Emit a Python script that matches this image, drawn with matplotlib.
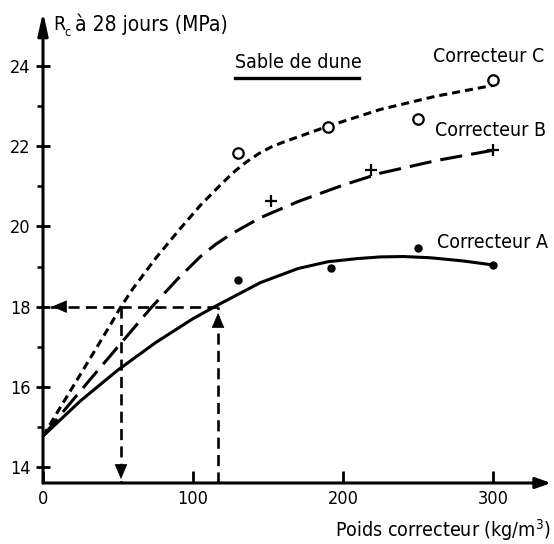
import matplotlib
matplotlib.use("Agg")
import matplotlib.pyplot as plt

plt.rcParams['font.family'] = ['DejaVu Sans']
plt.rcParams['font.stretch'] = 'condensed'
plt.rcParams['lines.scale_dashes'] = False

# fitted curves (kg/m3 -> MPa)
xA = [0, 25, 50, 75, 100, 117, 145, 170, 190, 210, 225, 240, 258, 280, 300]
yA = [14.77, 15.65, 16.42, 17.1, 17.7, 18.05, 18.6, 18.95, 19.12, 19.2, 19.24, 19.25,
      19.22, 19.14, 19.04]
xB = [0, 15, 30, 50, 72, 90, 105, 115, 125, 145, 170, 200, 225, 263, 300]
yB = [14.77, 15.45, 16.12, 17.0, 17.97, 18.7, 19.25, 19.55, 19.8, 20.22, 20.62, 21.03,
      21.33, 21.65, 21.9]
xC = [0, 15, 30, 45, 52, 60, 75, 90, 105, 120, 128, 136, 144, 152, 160, 175, 190, 225,
      262, 300]
yC = [14.77, 15.7, 16.62, 17.55, 18.0, 18.45, 19.2, 19.88, 20.53, 21.1, 21.38, 21.62,
      21.82, 21.98, 22.1, 22.3, 22.5, 22.92, 23.25, 23.52]

# measured points
ptsA_x = [130, 192, 250, 300]
ptsA_y = [18.66, 18.96, 19.46, 19.04]
ptsB_x = [152, 219, 300]
ptsB_y = [20.63, 21.41, 21.9]
ptsC_x = [130, 190, 250, 300]
ptsC_y = [21.83, 22.48, 22.68, 23.65]

# reading of the 18 MPa target
target = 18
doseC = 52
doseA = 116.7

xticks = [0, 100, 200, 300]
yticks = [14, 16, 18, 20, 22, 24]
yminor = [15, 17, 19, 21, 23]

fig = plt.figure(figsize=(5.54, 5.44), dpi=100)
ax = fig.add_axes([43/554, 61/544, 508/554, 471/544])
xmin, xmax = 0, 338.7
ymin, ymax = 13.6, 25.35
ax.set_xlim(xmin, xmax)
ax.set_ylim(ymin, ymax)
for s in ax.spines.values():
    s.set_visible(False)

# axes with arrows
ax.annotate('', xy=(xmax, ymin), xytext=(xmin, ymin), annotation_clip=False,
            arrowprops=dict(arrowstyle='-|>,head_length=0.7,head_width=0.25',
                            mutation_scale=13, lw=2.2, color='black',
                            shrinkA=0, shrinkB=0))
ax.annotate('', xy=(xmin, ymax), xytext=(xmin, ymin), annotation_clip=False,
            arrowprops=dict(arrowstyle='-|>,head_length=0.9,head_width=0.2',
                            mutation_scale=15, lw=2.2, color='black',
                            shrinkA=0, shrinkB=0))

ax.set_xticks(xticks)
ax.set_xticklabels([str(v) for v in xticks])
ax.set_yticks(yticks)
ax.set_yticklabels([str(v) for v in yticks])
ax.set_yticks(yminor, minor=True)
ax.tick_params(axis='x', direction='in', length=8.5, width=2, pad=5, labelsize=13)
ax.tick_params(axis='y', which='major', direction='inout', length=10, width=2,
               pad=4, labelsize=13)
ax.tick_params(axis='y', which='minor', direction='out', length=4, width=1.8)

# curves
ax.plot(xA, yA, color='black', lw=2.2, solid_joinstyle='round')
ax.plot(xB, yB, color='black', lw=2.2, dashes=(16, 6.5))
ax.plot(xC, yC, color='black', lw=2.2, dashes=(5.8, 3.6))

ax.plot(ptsA_x, ptsA_y, 'o', color='black', ms=5, clip_on=False)
ax.plot(ptsB_x, ptsB_y, '+', color='black', ms=8, mew=1.6, clip_on=False)
ax.plot(ptsC_x, ptsC_y, 'o', mfc='white', mec='black', ms=7.5, mew=1.6, clip_on=False)

# guide lines
gd = dict(color='black', lw=1.9, dashes=(8, 4.5))
ax.plot([doseA, 0], [target, target], **gd)
ax.plot([doseC, doseC], [target, ymin], **gd)
ax.plot([doseA, doseA], [ymin, target], **gd)
head = dict(arrowstyle='-|>,head_length=0.7,head_width=0.3', mutation_scale=14,
            lw=0.5, color='black', shrinkA=0, shrinkB=0)
ax.annotate('', xy=(6, target), xytext=(6 + 6.5, target), arrowprops=head)
ax.annotate('', xy=(doseC, ymin + 0.1), xytext=(doseC, ymin + 0.1 + 0.25), arrowprops=head)
ax.annotate('', xy=(doseA, target - 0.16), xytext=(doseA, target - 0.16 - 0.25), arrowprops=head)

# texts
lab = dict(fontsize=14, color='black', va='center', ha='left')
ax.text(260, 24.25, 'Correcteur C', **lab)
ax.text(261.3, 22.4, 'Correcteur B', **lab)
ax.text(262.7, 19.61, 'Correcteur A', **lab)
ax.text(128, 24.1, 'Sable de dune', **lab)
ax.plot([128, 210.7], [23.7, 23.7], color='black', lw=2.4, clip_on=False)

ax.text(6.7, 25.05, 'R', clip_on=False, **lab)
ax.text(14.3, 24.85, 'c', fontsize=9, va='center', ha='left', clip_on=False)
ax.text(21.5, 25.05, 'à 28 jours (MPa)', clip_on=False, fontsize=15, va='center', ha='left')
ax.text(194.7, 12.43, 'Poids correcteur (kg/m$^3$)', clip_on=False, **lab)

fig.savefig('out.png', dpi=100)
